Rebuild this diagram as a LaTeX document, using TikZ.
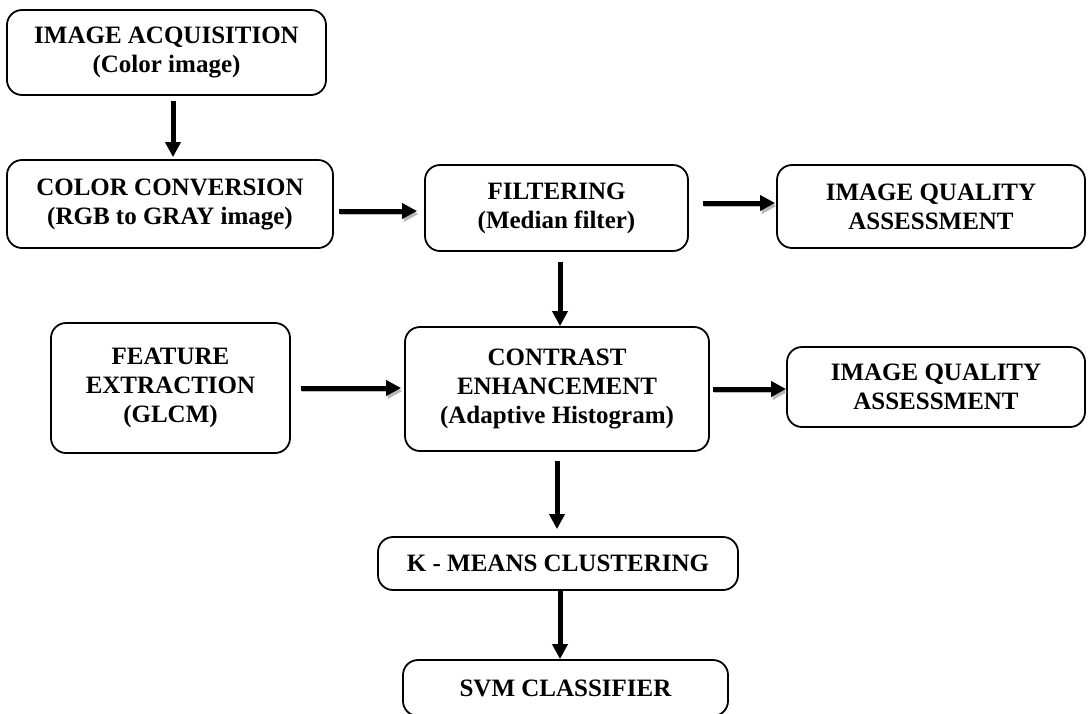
\documentclass[tikz,border=0pt]{standalone}
\usepackage{fontspec}
\setmainfont{Liberation Serif}
\usetikzlibrary{arrows.meta}

\begin{document}
\begin{tikzpicture}[x=1pt, y=-1pt,
            box/.style={draw, line width=1.8pt, rounded corners=15pt, align=center, inner sep=0pt,
                        font=\fontsize{25}{29}\selectfont\bfseries},
            arr/.style={line width=5pt, -{Triangle[width=15pt, length=15pt]}},
            arrsh/.style={arr, preaction={draw=gray!55, transform canvas={shift={(1.5pt,-3pt)}}}}]
            \useasboundingbox (0,0) rectangle (1091,713);
            \clip (0,0) rectangle (1091,713);

            \node[box, minimum width=319pt, minimum height=85pt] (acq) at (166.5,52.5) {IMAGE ACQUISITION\\(Color image)};
            \node[box, minimum width=326pt, minimum height=88pt] (conv) at (170,204) {COLOR CONVERSION\\(RGB to GRAY image)};
            \node[box, minimum width=263pt, minimum height=86pt] (filt) at (556.5,208) {FILTERING\\(Median filter)};
            \node[box, minimum width=308pt, minimum height=83pt] (iqa1) at (931,206.5) {IMAGE QUALITY\\ASSESSMENT};
            \node[box, minimum width=239pt, minimum height=130pt] (feat) at (170.5,388) {FEATURE\\EXTRACTION\\(GLCM)};
            \node[box, minimum width=304pt, minimum height=124pt] (cont) at (557,389) {CONTRAST\\ENHANCEMENT\\(Adaptive Histogram)};
            \node[box, minimum width=298pt, minimum height=80pt] (iqa2) at (936,387) {IMAGE QUALITY\\ASSESSMENT};
            \node[box, minimum width=360pt, minimum height=53pt] (kmeans) at (558,563.5) {K - MEANS CLUSTERING};
            \node[box, minimum width=325pt, minimum height=56pt] (svm) at (565.5,688) {SVM CLASSIFIER};

            \draw[arr, shorten <=5pt, shorten >=2pt] ([xshift=6.5pt]acq.south) -- ([xshift=6.5pt]acq.south |- conv.north);
            \draw[arrsh, shorten <=5pt, shorten >=7pt] ([yshift=-7pt]conv.east) -- ([yshift=-7pt]conv.east -| filt.west);
            \draw[arrsh, shorten <=14pt, shorten >=1pt] ([yshift=5pt]filt.east) -- ([yshift=5pt]filt.east -| iqa1.west);
            \draw[arr, shorten <=10pt] ([xshift=3.5pt]filt.south) -- ([xshift=3.5pt]filt.south |- cont.north);
            \draw[arrsh, shorten <=10pt, shorten >=3pt] (feat.east) -- (feat.east -| cont.west);
            \draw[arrsh, shorten <=3pt] (cont.east) -- (cont.east -| iqa2.west);
            \draw[arr, shorten <=9pt, shorten >=7pt] (cont.south) -- (cont.south |- kmeans.north);
            \draw[arr] ([xshift=2pt]kmeans.south) -- ([xshift=2pt]kmeans.south |- svm.north);
        \end{tikzpicture}
\end{document}
